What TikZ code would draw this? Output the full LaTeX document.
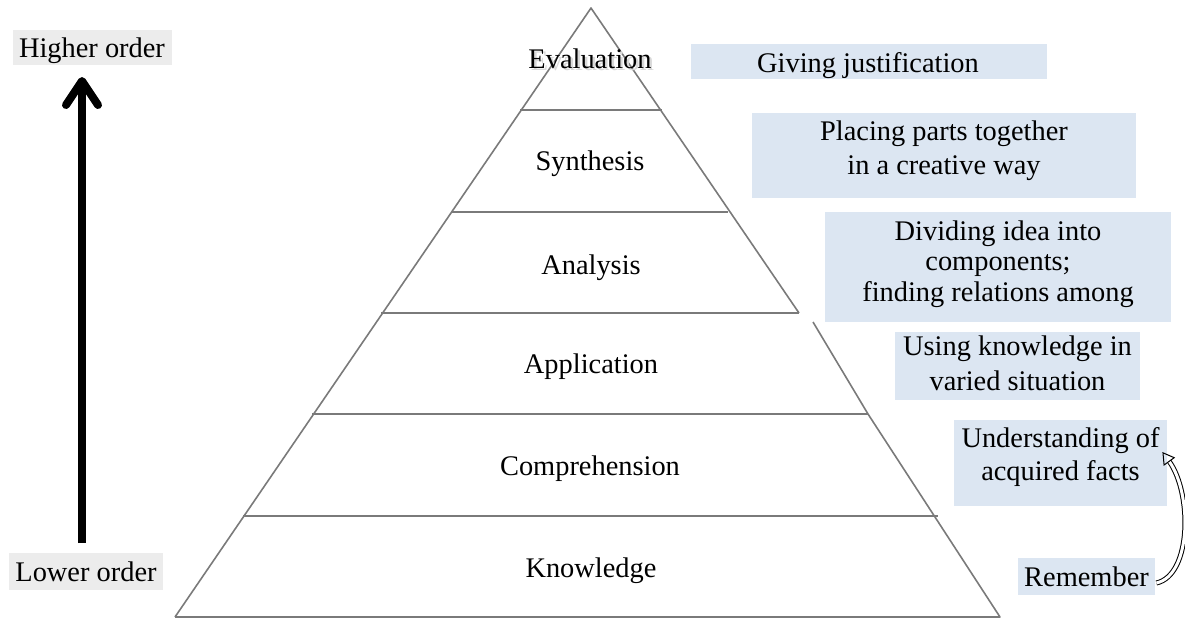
\documentclass[tikz,border=0pt]{standalone}
\usepackage{fontspec}
\setmainfont{Liberation Serif}
\usetikzlibrary{arrows.meta}
\definecolor{boxblue}{HTML}{DCE6F2}
\definecolor{boxgray}{HTML}{ECECEC}
\definecolor{pyrline}{HTML}{7A7A7A}
\begin{document}
\begin{tikzpicture}[x=0.5pt,y=-0.5pt,
  txt/.style={font=\fontsize{14.2}{17}\selectfont, inner sep=0pt},
  bluebox/.style={fill=boxblue, inner sep=0pt, draw=none},
  graybox/.style={fill=boxgray, inner sep=0pt, draw=none},
  pyr/.style={draw=pyrline, line width=0.8pt, line join=round},
  ]
\useasboundingbox (0,0) rectangle (1185,618);

% ---------- pyramid ----------
\draw[pyr] (175,617) -- (591,8) -- (799,313);
\draw[pyr] (813,322) -- (868,414) -- (1000,617) -- (175,617);
\draw[pyr] (520,110) -- (662,110);
\draw[pyr] (452,212) -- (728,212);
\draw[pyr] (381,313) -- (799,313);
\draw[pyr] (312,414) -- (868,414);
\draw[pyr] (243,516) -- (938,516);

\node[txt, anchor=base, text=black!15] (evsh) at (592.5,70.5) {Evaluation};
\node[txt, anchor=base] (ev) at (590,68) {Evaluation};
\node[txt, anchor=base] (sy) at (590,170) {Synthesis};
\node[txt, anchor=base] (an) at (591,274) {Analysis};
\node[txt, anchor=base] (ap) at (591,373) {Application};
\node[txt, anchor=base] (co) at (590,475) {Comprehension};
\node[txt, anchor=base] (kn) at (591,577) {Knowledge};

% ---------- right-hand boxes ----------
\node[bluebox, minimum width=178pt, minimum height=17.5pt] (just) at (869,61.5) {};
\node[txt, anchor=base] (justt) at (868,72) {Giving justification};

\node[bluebox, minimum width=192pt, minimum height=42.5pt] (place) at (944,155.5) {};
\node[txt, align=center] (placet) at (944,150.2) {\strut Placing parts together\\in a creative way\strut};

\node[bluebox, minimum width=173pt, minimum height=55pt] (divide) at (998,267) {};
\node[txt, align=center, font=\fontsize{14.2}{15.25}\selectfont] (dividet) at (998,264.4)
  {\strut Dividing idea into\\components;\\finding relations among\strut};

\node[bluebox, minimum width=122.5pt, minimum height=34pt] (using) at (1017.5,366) {};
\node[txt, align=center, font=\fontsize{14.2}{17.5}\selectfont] (usingt) at (1017.5,365.5)
  {\strut Using knowledge in\\varied situation\strut};

\node[bluebox, minimum width=106.5pt, minimum height=43pt] (und) at (1060.5,463) {};
\node[txt, align=center, font=\fontsize{14.2}{16.5}\selectfont] (undt) at (1060.5,456.9)
  {\strut Understanding of\\acquired facts\strut};

\node[bluebox, minimum width=68.5pt, minimum height=18.5pt] (rem) at (1086.5,576.5) {};
\node[txt, anchor=base] (remt) at (1086.5,586) {Remember};

\draw[double, double distance=1.5pt, line width=0.5pt, -{Triangle[open,length=6pt,width=7pt]}]
  ([shift={(1,6.5)}]rem.east) .. controls (1192,575) and (1192,493) .. ([shift={(-5,-11)}]und.east);

% ---------- left scale ----------
\node[graybox, minimum width=79.5pt, minimum height=17.5pt] (higher) at (92.5,47.5) {};
\node[txt, anchor=base] (highert) at (92,57) {Higher order};
\node[graybox, minimum width=77pt, minimum height=18.5pt] (lower) at (86,571.5) {};
\node[txt, anchor=base] (lowert) at (86,581) {Lower order};

\coordinate (abot) at (82,543);
\coordinate (atop) at (82,77);
\draw[line width=4pt, -{Straight Barb[length=12pt,width=16pt,round]}] (abot) -- (atop);
\end{tikzpicture}
\end{document}
